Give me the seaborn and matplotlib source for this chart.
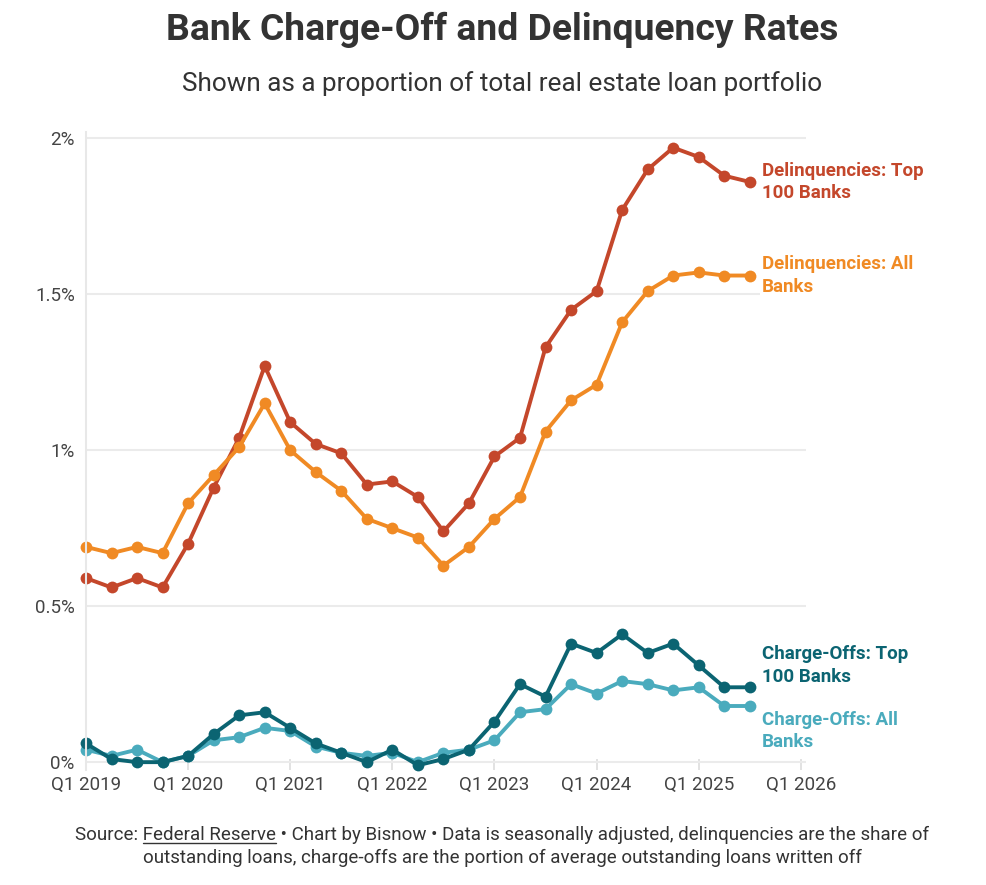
import matplotlib
matplotlib.use("Agg")
import pandas as pd
import seaborn as sns
import matplotlib.pyplot as plt

# quarterly data, Q1 2019 .. Q3 2025 (percent)
quarters = [2019 + i * 0.25 for i in range(27)]
delinq_top100 = [0.59, 0.56, 0.59, 0.56, 0.70, 0.88, 1.04, 1.27, 1.09, 1.02, 0.99, 0.89, 0.90, 0.85,
                 0.74, 0.83, 0.98, 1.04, 1.33, 1.45, 1.51, 1.77, 1.90, 1.97, 1.94, 1.88, 1.86]
delinq_all = [0.69, 0.67, 0.69, 0.67, 0.83, 0.92, 1.01, 1.15, 1.00, 0.93, 0.87, 0.78, 0.75, 0.72,
              0.63, 0.69, 0.78, 0.85, 1.06, 1.16, 1.21, 1.41, 1.51, 1.56, 1.57, 1.56, 1.56]
chargeoff_top100 = [0.06, 0.01, 0.00, 0.00, 0.02, 0.09, 0.15, 0.16, 0.11, 0.06, 0.03, 0.00, 0.04, -0.01,
                    0.01, 0.04, 0.13, 0.25, 0.21, 0.38, 0.35, 0.41, 0.35, 0.38, 0.31, 0.24, 0.24]
chargeoff_all = [0.04, 0.02, 0.04, 0.00, 0.02, 0.07, 0.08, 0.11, 0.10, 0.05, 0.03, 0.02, 0.03, 0.00,
                 0.03, 0.04, 0.07, 0.16, 0.17, 0.25, 0.22, 0.26, 0.25, 0.23, 0.24, 0.18, 0.18]

series_names = ["Delinquencies: Top 100 Banks", "Delinquencies: All Banks",
                "Charge-Offs: All Banks", "Charge-Offs: Top 100 Banks"]
series_vals = [delinq_top100, delinq_all, chargeoff_all, chargeoff_top100]
colors = ["#c4472b", "#f08a24", "#4aabbd", "#0b6472"]
labels = ["Delinquencies: Top\n100 Banks", "Delinquencies: All\nBanks",
          "Charge-Offs: All\nBanks", "Charge-Offs: Top\n100 Banks"]
label_y = [1.86, 1.56, 0.10, 0.31]

rows = []
for name, vals in zip(series_names, series_vals):
    for q, v in zip(quarters, vals):
        rows.append({"quarter": q, "rate": v, "series": name})
df = pd.DataFrame(rows)

sns.set_theme(style="white")
plt.rcParams["font.family"] = ["Roboto", "DejaVu Sans"]

fig = plt.figure(figsize=(9.87, 8.85), dpi=100)
ax = fig.add_axes([0.0871, 0.130, 0.7295, 0.7208])

sns.lineplot(data=df, x="quarter", y="rate", hue="series", hue_order=series_names,
             palette=colors, marker="o", markersize=8.5, markeredgewidth=0,
             linewidth=2.8, legend=False, ax=ax, clip_on=False)

ax.set_xlim(2019, 2026.05)
ax.set_ylim(-0.025, 2.02)
ax.set_yticks([0, 0.5, 1, 1.5, 2])
ax.set_yticklabels(["0%", "0.5%", "1%", "1.5%", "2%"])
ax.set_xticks(range(2019, 2027))
ax.set_xticklabels([f"Q1 {y}" for y in range(2019, 2027)])
ax.set_xlabel("")
ax.set_ylabel("")
ax.grid(axis="y", color="#ebebeb", linewidth=1.5)
ax.set_axisbelow(True)
for s in ["top", "right", "bottom"]:
    ax.spines[s].set_visible(False)
ax.spines["left"].set_color("#e8e8e8")
ax.spines["left"].set_linewidth(1.5)
ax.tick_params(axis="y", length=0, labelsize=13.5, labelcolor="#444444", pad=8)
ax.tick_params(axis="x", bottom=True, direction="in", length=8, width=1.2,
               color="#dddddd", labelsize=13.5, labelcolor="#444444", pad=4)

for lab, ly, c in zip(labels, label_y, colors):
    ax.text(2025.62, ly, lab, color=c, fontsize=13.5, fontweight="bold", va="center", ha="left",
            linespacing=1.35, bbox=dict(facecolor="white", edgecolor="none", pad=1.5))

fig.text(0.509, 0.966, "Bank Charge-Off and Delinquency Rates", ha="center", va="center",
         fontsize=26.8, fontweight="bold", color="#333333")
fig.text(0.509, 0.906, "Shown as a proportion of total real estate loan portfolio", ha="center",
         va="center", fontsize=18.8, color="#333333")

line1 = "Source: Federal Reserve \u2022 Chart by Bisnow \u2022 Data is seasonally adjusted, delinquencies are the share of"
line2 = "outstanding loans, charge-offs are the portion of average outstanding loans written off"
t1 = fig.text(0.509, 0.056, line1, ha="center", va="center", fontsize=13.5, color="#333333")
fig.text(0.509, 0.030, line2, ha="center", va="center", fontsize=13.5, color="#333333")

# underline "Federal Reserve"
r = fig.canvas.get_renderer()
bb = t1.get_window_extent(r)
tmp = fig.text(0, 0, "Source: ", fontsize=13.5)
w0 = tmp.get_window_extent(r).width
tmp.set_text("Source: Federal Reserve")
w1 = tmp.get_window_extent(r).width
tmp.remove()
x0 = (bb.x0 + w0) / fig.bbox.width
x1 = (bb.x0 + w1) / fig.bbox.width
yl = (bb.y0 + 1) / fig.bbox.height
fig.add_artist(plt.Line2D([x0, x1], [yl, yl], color="#333333", linewidth=1))

fig.savefig("out.png", dpi=100)
